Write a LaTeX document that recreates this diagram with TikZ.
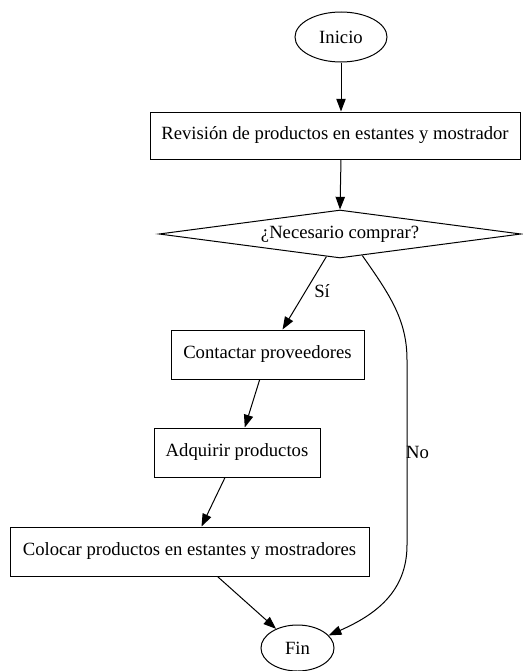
\documentclass[tikz,border=0pt]{standalone}
\usepackage{fontspec}
\setmainfont{Liberation Serif}
\usetikzlibrary{shapes.geometric,arrows.meta}

\begin{document}
\begin{tikzpicture}[x=0.75pt,y=-0.75pt,
  every node/.style={font=\fontsize{14pt}{16pt}\selectfont, inner sep=0pt},
  base/.style={draw, line width=0.75pt},
  term/.style={base, ellipse},
  proc/.style={base, rectangle},
  choice/.style={base, diamond, aspect=7.5},
  flow/.style={line width=0.75pt, -{Triangle[length=9.5pt,width=7pt]}},
  lbl/.style={fill=none}
]
\useasboundingbox (0,0) rectangle (522,671);

% nodes
\node[term, minimum width=92*0.75pt, minimum height=50*0.75pt] (ini) at (341,37) {Inicio};
\node[proc, minimum width=370*0.75pt, minimum height=47*0.75pt] (rev) at (335,135.5) {Revisión de productos en estantes y mostrador};
\node[choice, minimum width=362*0.75pt, minimum height=48*0.75pt] (dec) at (340,234) {¿Necesario comprar?};
\node[proc, minimum width=193*0.75pt, minimum height=49*0.75pt] (con) at (267.5,354.5) {Contactar proveedores};
\node[proc, minimum width=166*0.75pt, minimum height=49*0.75pt] (adq) at (237,452.5) {Adquirir productos};
\node[proc, minimum width=359*0.75pt, minimum height=49*0.75pt] (col) at (189.5,551.5) {Colocar productos en estantes y mostradores};
\node[term, minimum width=73*0.75pt, minimum height=46*0.75pt] (fin) at (297.5,648) {Fin};

% connectors
\draw[flow] (ini.south) -- (ini.south |- rev.north);
\draw[flow] (ini.south |- rev.south) -- (dec.north);
\draw[flow] (dec) -- node[lbl, pos=0.47, right=6pt] {Sí} (con);
\draw[flow] (con) -- (adq);
\draw[flow] (adq) -- (col);
\draw[flow] (col) -- (fin);
\draw[flow] (dec.-44) .. controls (390,295) and (407,320) .. (407,360)
  -- node[lbl, pos=0.5, right=0pt, xshift=-1pt] {No} (407,545)
  .. controls (407,592) and (375,615) .. (fin.22);
\end{tikzpicture}
\end{document}
